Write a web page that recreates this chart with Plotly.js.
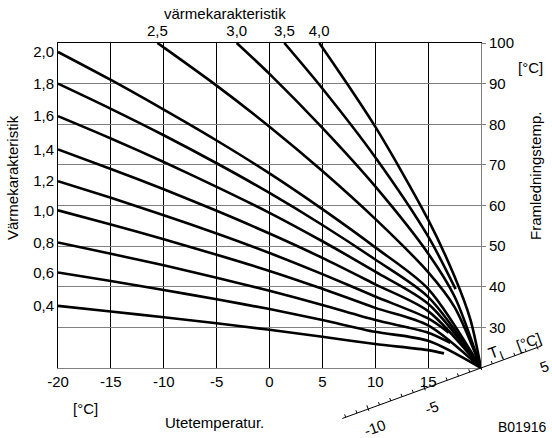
<!DOCTYPE html>
<html>
<head>
<meta charset="utf-8">
<script src="https://cdn.plot.ly/plotly-3.0.1.min.js"></script>
<style>html,body{margin:0;padding:0;background:#fff;}#chart{width:552px;height:438px;}</style>
</head>
<body>
<div id="chart"></div>
<script>
// ---- data (outdoor temp °C -> flow temp °C) ----
const outdoorX = [-20, -15, -10, -5, 0, 5, 10, 15, 20];
const flow06 = [43.5, 41.4, 39.2, 36.9, 34.5, 31.8, 28.9, 26.7, 20];
const flow10 = [58.8, 55.3, 51.7, 47.9, 43.9, 39.5, 34.8, 30.5, 20];
const flow14 = [73.8, 69.0, 64.0, 58.7, 53.1, 47.1, 40.6, 34.0, 20];
const flow16 = [82.0, 76.5, 70.7, 64.6, 58.2, 51.2, 43.7, 35.8, 20];
const flow18 = [90.0, 83.8, 77.3, 70.4, 63.1, 55.2, 46.7, 37.5, 20];
const flow20 = [97.8, 90.9, 83.6, 76.0, 67.9, 59.1, 49.7, 39.5, 20];

const outdoorX04 = [-20, -15, -10, -5, 0, 5, 10, 15, 16.5];
const flow04 = [35.3, 33.9, 32.5, 31.0, 29.4, 27.7, 25.9, 24.4, 23.6];
const outdoorX08 = [-20, -15, -10, -5, 0, 5, 10, 15, 17.1];
const flow08 = [50.9, 48.1, 45.3, 42.2, 39.0, 35.5, 31.8, 28.7, 26.2];
const outdoorX12 = [-20, -15, -10, -5, 0, 5, 10, 15, 16.95];
const flow12 = [66.0, 61.9, 57.6, 53.1, 48.3, 43.1, 37.6, 32.2, 28.7];

const outdoorX25 = [-10.6, -10, -5, 0, 5, 10, 15, 17.5, 20];
const flow25 = [100, 98.9, 89.5, 79.4, 68.5, 56.7, 43.6, 35.0, 20];
const outdoorX30 = [-3.1, 0, 5, 10, 15, 17.5, 20];
const flow30 = [100, 92.4, 79.1, 64.7, 48.2, 37.6, 20];
const outdoorX35 = [1.4, 5, 10, 15, 17.6];
const flow35 = [100, 88.8, 71.9, 52.4, 39.4];
const outdoorX40 = [4.7, 5, 10, 15, 17.5, 19, 20];
const flow40 = [100, 98.9, 79.4, 56.5, 42.5, 31.9, 20];

// ---- tick labels ----
const outdoorTicks = [-20, -15, -10, -5, 0, 5, 10, 15];
const outdoorTickText = ['-20', '-15', '-10', '-5', '0', '5', '10', '15'];
const flowTicks = [30, 40, 50, 60, 70, 80, 90, 100];
const leftTickText = ['0,4', '0,6', '0,8', '1,0', '1,2', '1,4', '1,6', '1,8', '2,0'];
const leftTickVals = [flow04[0], flow06[0], flow08[0], flow10[0], flow12[0], flow14[0], flow16[0], flow18[0], flow20[0]];
const topTickText = ['2,5', '3,0', '3,5', '4,0'];
const topTickVals = [outdoorX25[0], outdoorX30[0], outdoorX35[0], outdoorX40[0]];
const tiTickVals = [-10, -5, 5];
const tiTickText = ['-10', '-5', '5'];

const curves = [
  [outdoorX04, flow04], [outdoorX, flow06], [outdoorX08, flow08], [outdoorX, flow10],
  [outdoorX12, flow12], [outdoorX, flow14], [outdoorX, flow16], [outdoorX, flow18],
  [outdoorX, flow20], [outdoorX25, flow25], [outdoorX30, flow30], [outdoorX35, flow35],
  [outdoorX40, flow40]
];

const traces = curves.map(c => ({
  x: c[0], y: c[1], type: 'scatter', mode: 'lines', xaxis: 'x', yaxis: 'y',
  line: {color: '#000', width: 2.6, shape: 'spline', smoothing: 0.8},
  hoverinfo: 'skip', cliponaxis: true
}));
traces.push({x: [null], y: [null], xaxis: 'x2', yaxis: 'y2', type: 'scatter', mode: 'lines', showlegend: false});

// ---- plot-area geometry (pixels) for decoration ----
const W = 552, H = 438;
const M = {l: 58, r: 71, t: 43, b: 70};
const PW = W - M.l - M.r, PH = H - M.t - M.b;
function paper(px, py) { return {x: (px - M.l) / PW, y: (H - M.b - py) / PH}; }
const ox = M.l + PW, oy = H - M.b;           // Ti axis origin = (20 °C, 20 °C)
const ang = 20 * Math.PI / 180, pxPerDeg = 12;
const ux = Math.cos(ang), uy = -Math.sin(ang);   // along axis (screen coords)
const nx = -Math.sin(ang), ny = -Math.cos(ang);  // perpendicular, pointing up
function tiPt(t, off) { return paper(ox + ux * t * pxPerDeg + nx * off, oy + uy * t * pxPerDeg + ny * off); }

const shapes = [];
const a0 = tiPt(-12.3, 0), a1 = tiPt(5.3, 0);
shapes.push({type: 'line', xref: 'paper', yref: 'paper', x0: a0.x, y0: a0.y, x1: a1.x, y1: a1.y, line: {color: '#000', width: 1}});
for (let t = -12; t <= 5; t++) {
  const major = (t % 5 === 0);
  const p0 = tiPt(t, major ? -2 : 0), p1 = tiPt(t, major ? 4 : 3);
  shapes.push({type: 'line', xref: 'paper', yref: 'paper', x0: p0.x, y0: p0.y, x1: p1.x, y1: p1.y, line: {color: '#000', width: 1}});
}

const F = 'Liberation Sans, Arial, sans-serif';
function ann(text, px, py, opts) {
  const p = paper(px, py);
  return Object.assign({text: text, x: p.x, y: p.y, xref: 'paper', yref: 'paper', showarrow: false,
    xanchor: 'center', yanchor: 'middle', font: {family: F, size: 15, color: '#000'}}, opts || {});
}
const annotations = [
  ann('värmekarakteristik', 225, 13),
  ann('Värmekarakteristik', 12, 178, {textangle: -90}),
  ann('Framledningstemp.', 536, 176, {textangle: -90}),
  ann('[°C]', 530, 68),
  ann('[°C]', 85, 408),
  ann('Utetemperatur.', 214, 422),
  ann('B01916', 522, 427, {font: {family: F, size: 14, color: '#000'}})
];
tiTickVals.forEach((v, i) => {
  const p = tiPt(v, -20);
  annotations.push({text: tiTickText[i], x: p.x, y: p.y, xref: 'paper', yref: 'paper', showarrow: false,
    xanchor: 'center', yanchor: 'middle', textangle: -20, font: {family: F, size: 15, color: '#000'}});
});
const tL = tiPt(1.6, 9), cL = tiPt(4.5, 9);
annotations.push({text: 'T<sub>I</sub>', x: tL.x, y: tL.y, xref: 'paper', yref: 'paper', showarrow: false,
  xanchor: 'center', yanchor: 'middle', textangle: -20, font: {family: F, size: 16, color: '#000'}});
annotations.push({text: '[°C]', x: cL.x, y: cL.y, xref: 'paper', yref: 'paper', showarrow: false,
  xanchor: 'center', yanchor: 'middle', textangle: -20, font: {family: F, size: 15, color: '#000'}});

const layout = {
  width: W, height: H,
  margin: {l: M.l, r: M.r, t: M.t, b: M.b, pad: 0},
  paper_bgcolor: '#fff', plot_bgcolor: '#fff',
  showlegend: false,
  font: {family: F, size: 15, color: '#000'},
  xaxis: {range: [-20, 20], tickvals: outdoorTicks, ticktext: outdoorTickText, showgrid: true,
    gridcolor: '#000', gridwidth: 1, zeroline: false, showline: true, linecolor: '#808080', linewidth: 1,
    ticks: '', tickfont: {family: F, size: 15, color: '#000'}},
  xaxis2: {overlaying: 'x', side: 'top', anchor: 'y', range: [-20, 20], tickvals: topTickVals, ticktext: topTickText,
    showgrid: false, zeroline: false, showline: true, linecolor: '#000', linewidth: 1, ticks: '',
    tickfont: {family: F, size: 15, color: '#000'}},
  yaxis: {side: 'right', range: [20, 100], tickvals: flowTicks, showgrid: true, gridcolor: '#808080', gridwidth: 1,
    zeroline: false, showline: true, linecolor: '#808080', linewidth: 1, ticks: 'outside', ticklen: 4,
    tickcolor: '#808080', tickfont: {family: F, size: 15, color: '#000'}},
  yaxis2: {overlaying: 'y', side: 'left', anchor: 'x', range: [20, 100], tickvals: leftTickVals, ticktext: leftTickText,
    showgrid: false, zeroline: false, showline: true, linecolor: '#000', linewidth: 1, ticks: '',
    tickfont: {family: F, size: 15, color: '#000'}},
  shapes: shapes,
  annotations: annotations
};

Plotly.newPlot('chart', traces, layout, {staticPlot: true, displayModeBar: false});
</script>
</body>
</html>
